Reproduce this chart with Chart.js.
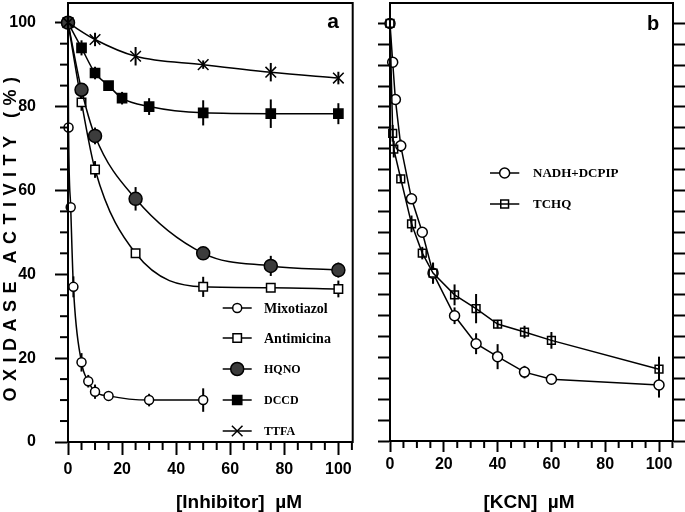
<!DOCTYPE html>
<html>
<head>
    <title>Oxidase activity - inhibitors and KCN</title>
    <script src="https://cdn.jsdelivr.net/npm/chart.js"></script>
    <style>
        body { margin: 0; background: #fff; }
        .wrap { position: relative; width: 685px; height: 512px; }
        #chartA { position: absolute; left: 0; top: 0; }
        #chartB { position: absolute; left: 370px; top: 0; }
    </style>
</head>
<body>
<div class="wrap">
    <canvas id="chartA" width="370" height="512"></canvas>
    <canvas id="chartB" width="315" height="512"></canvas>
</div>
<script>
    // Panel a: inhibitor concentration (uM) vs oxidase activity (%)
    const mixoConc = [0, 0.2, 1, 2, 5, 7.5, 10, 15, 30, 50];
    const mixoAct  = [100, 75, 56, 37, 19, 14.5, 12, 11, 10, 10];
    const mixoErr  = [0, 0, 0, 2.5, 2.2, 1.5, 1.7, 0, 1.5, 2.8];

    const antiConc = [0, 5, 10, 25, 50, 75, 100];
    const antiAct  = [100, 81, 65, 45, 37, 36.8, 36.5];
    const antiErr  = [0, 2, 2, 0, 2.4, 0, 2];

    const hqnoConc = [0, 5, 10, 25, 50, 75, 100];
    const hqnoAct  = [100, 84, 73, 58, 45, 42, 41];
    const hqnoErr  = [0, 0, 2, 2.8, 1.5, 2.4, 1.8];

    const dccdConc = [0, 5, 10, 15, 20, 30, 50, 75, 100];
    const dccdAct  = [100, 94, 88, 85, 82, 80, 78.5, 78.3, 78.3];
    const dccdErr  = [0, 1.8, 1.5, 0, 1.5, 2, 3, 3.4, 2.5];

    const ttfaConc = [0, 10, 25, 50, 75, 100];
    const ttfaAct  = [100, 96, 92, 90, 88.2, 86.8];
    const ttfaErr  = [0, 1.6, 2.2, 1, 2.2, 1.5];

    // Panel b: KCN concentration (uM)
    const nadhConc = [0, 1, 2, 4, 8, 12, 16, 24, 32, 40, 50, 60, 100];
    const nadhAct  = [100, 90.7, 81.8, 70.7, 58, 50, 40.2, 30, 23.3, 20.2, 16.5, 14.8, 13.4];
    const nadhErr  = [0, 1, 1, 1.5, 1, 1, 2.5, 2, 2.5, 3, 1.5, 1, 3];

    const tchqConc = [0, 1, 1.4, 4, 8, 12, 16, 24, 32, 40, 50, 60, 100];
    const tchqAct  = [100, 73.7, 69.9, 62.8, 52, 45, 40.2, 35, 31.7, 28, 26.1, 24.1, 17.2];
    const tchqErr  = [0, 2, 2, 1, 2, 1.5, 2.5, 2.5, 3.5, 1, 1.5, 2, 3];

    const tickLabels = [0, 20, 40, 60, 80, 100];

    const sans = "'Liberation Sans', Arial, sans-serif";
    const serif = "'Liberation Serif', 'Times New Roman', serif";

    const pts = (xs, ys) => xs.map((x, i) => ({ x: x, y: ys[i] }));

    // fixed box sizes, and no extra room for the end labels
    const fitBox = (w, h) => s => {
        if (w !== null) s.width = w;
        if (h !== null) s.height = h;
        s.paddingTop = 0; s.paddingBottom = 0;
        s.paddingLeft = 0; s.paddingRight = 0;
    };

    // error bars under the markers
    const errorBars = {
        id: 'errorBars',
        beforeDatasetsDraw(chart) {
            const ctx = chart.ctx;
            const xs = chart.scales.x, ys = chart.scales.y;
            ctx.save();
            ctx.strokeStyle = '#000';
            ctx.lineWidth = 2;
            chart.data.datasets.forEach(ds => {
                (ds.err || []).forEach((e, i) => {
                    if (!e) return;
                    const p = ds.data[i];
                    const px = xs.getPixelForValue(p.x);
                    ctx.beginPath();
                    ctx.moveTo(px, ys.getPixelForValue(p.y + e));
                    ctx.lineTo(px, ys.getPixelForValue(p.y - e));
                    ctx.stroke();
                });
            });
            ctx.restore();
        }
    };

    // short ticks every 5 between the labelled ones
    const minorTicks = {
        id: 'minorTicks',
        afterDraw(chart, args, opts) {
            const ctx = chart.ctx;
            ctx.save();
            ctx.strokeStyle = '#000';
            ctx.lineWidth = 2;
            (opts.list || []).forEach(m => {
                const s = chart.scales[m.id];
                for (let v = 5; v <= s.max; v += 5) {
                    if (v % 20 === 0) continue;
                    const p = s.getPixelForValue(v);
                    ctx.beginPath();
                    if (s.isHorizontal()) {
                        ctx.moveTo(p, s.top);
                        ctx.lineTo(p, s.top + m.len);
                    } else {
                        ctx.moveTo(s.right - m.len, p);
                        ctx.lineTo(s.right, p);
                    }
                    ctx.stroke();
                }
            });
            ctx.restore();
        }
    };

    // box around the plot
    const frame = {
        id: 'frame',
        afterDraw(chart) {
            const a = chart.chartArea, ctx = chart.ctx;
            ctx.save();
            ctx.strokeStyle = '#000';
            ctx.lineWidth = 2;
            ctx.strokeRect(a.left, a.top, a.right - a.left, a.bottom - a.top);
            ctx.restore();
        }
    };

    function drawMarker(ctx, ds, x, y) {
        const r = ds.pointRadius;
        const h = r * Math.SQRT1_2;
        ctx.beginPath();
        if (ds.pointStyle === 'circle') {
            ctx.arc(x, y, r, 0, Math.PI * 2);
        } else if (ds.pointStyle === 'rect') {
            ctx.rect(x - h, y - h, 2 * h, 2 * h);
        } else {
            ctx.moveTo(x - h, y - h); ctx.lineTo(x + h, y + h);
            ctx.moveTo(x + h, y - h); ctx.lineTo(x - h, y + h);
        }
        if (ds.pointStyle !== 'crossRot') {
            ctx.fillStyle = ds.pointBackgroundColor;
            ctx.fill();
        }
        ctx.lineWidth = ds.pointBorderWidth;
        ctx.strokeStyle = '#000';
        ctx.stroke();
    }

    // legend placed inside the plot, plus free text (titles, panel letters)
    const annotate = {
        id: 'annotate',
        afterDraw(chart, args, opts) {
            const ctx = chart.ctx;
            ctx.save();
            const lg = opts.legend;
            if (lg) {
                lg.rows.forEach(row => {
                    const ds = chart.data.datasets[row.ds];
                    ctx.strokeStyle = '#000';
                    ctx.lineWidth = 1.5;
                    ctx.beginPath();
                    ctx.moveTo(lg.x1, row.y);
                    ctx.lineTo(lg.x2, row.y);
                    ctx.stroke();
                    drawMarker(ctx, ds, (lg.x1 + lg.x2) / 2, row.y);
                    ctx.fillStyle = '#000';
                    ctx.font = 'bold ' + row.size + 'px ' + serif;
                    ctx.textAlign = 'left';
                    ctx.textBaseline = 'middle';
                    ctx.fillText(ds.label, lg.tx, row.y + 1);
                });
            }
            (opts.texts || []).forEach(t => {
                ctx.save();
                ctx.fillStyle = '#000';
                ctx.font = 'bold ' + t.size + 'px ' + sans;
                ctx.textAlign = 'center';
                ctx.textBaseline = 'alphabetic';
                if (t.spacing) ctx.letterSpacing = t.spacing;
                ctx.translate(t.x, t.y);
                if (t.rotate) ctx.rotate(-Math.PI / 2);
                ctx.fillText(t.text, 0, 0);
                ctx.restore();
            });
            ctx.restore();
        }
    };

    const tickFont = { family: sans, size: 16, weight: 'bold' };

    const lineBase = {
        borderColor: '#000',
        borderWidth: 1.5,
        pointBorderColor: '#000',
        pointBorderWidth: 1.5,
        clip: false
    };

    // ---- panel a ----
    new Chart(document.getElementById('chartA'), {
        type: 'line',
        data: {
            datasets: [
                Object.assign({}, lineBase, {
                    label: 'Mixotiazol', data: pts(mixoConc, mixoAct), err: mixoErr, order: 5,
                    pointStyle: 'circle', pointRadius: 4.5, pointBackgroundColor: '#fff',
                    cubicInterpolationMode: 'monotone'
                }),
                Object.assign({}, lineBase, {
                    label: 'Antimicina', data: pts(antiConc, antiAct), err: antiErr, order: 4,
                    pointStyle: 'rect', pointRadius: 6, pointBackgroundColor: '#fff',
                    cubicInterpolationMode: 'monotone'
                }),
                Object.assign({}, lineBase, {
                    label: 'HQNO', data: pts(hqnoConc, hqnoAct), err: hqnoErr, order: 2,
                    pointStyle: 'circle', pointRadius: 6.5, pointBackgroundColor: '#3c3c3c',
                    cubicInterpolationMode: 'monotone'
                }),
                Object.assign({}, lineBase, {
                    label: 'DCCD', data: pts(dccdConc, dccdAct), err: dccdErr, order: 3,
                    pointStyle: 'rect', pointRadius: 6.5, pointBackgroundColor: '#000',
                    cubicInterpolationMode: 'monotone'
                }),
                Object.assign({}, lineBase, {
                    label: 'TTFA', data: pts(ttfaConc, ttfaAct), err: ttfaErr, order: 1,
                    pointStyle: 'crossRot', pointRadius: 7.5, pointBackgroundColor: '#000',
                    cubicInterpolationMode: 'monotone'
                })
            ]
        },
        options: {
            responsive: false,
            animation: false,
            events: [],
            layout: { autoPadding: false, padding: { top: 3, right: 17.3, left: 0, bottom: 0 } },
            plugins: {
                legend: { display: false },
                tooltip: { enabled: false },
                minorTicks: { list: [{ id: 'x', len: 8 }, { id: 'y', len: 8 }] },
                annotate: {
                    legend: {
                        x1: 222.7, x2: 251.7, tx: 264,
                        rows: [
                            { ds: 0, y: 308, size: 14 },
                            { ds: 1, y: 338, size: 14 },
                            { ds: 2, y: 369, size: 12 },
                            { ds: 3, y: 400, size: 12 },
                            { ds: 4, y: 431, size: 12 }
                        ]
                    },
                    texts: [
                        { text: 'OXIDASE ACTIVITY (%)', x: 16, y: 236, size: 18, rotate: true, spacing: '6.5px' },
                        { text: '[Inhibitor]  µM', x: 239, y: 508, size: 19 },
                        { text: 'a', x: 333, y: 28, size: 21 }
                    ]
                }
            },
            scales: {
                x: {
                    type: 'linear', min: 0, max: 105.3,
                    afterFit: fitBox(null, 70),
                    grid: { drawOnChartArea: false, tickLength: 13, tickWidth: 2, tickColor: '#000' },
                    border: { color: '#000', width: 2 },
                    ticks: {
                        stepSize: 20, includeBounds: false, autoSkip: false, maxRotation: 0,
                        padding: 5, color: '#000', font: tickFont,
                        callback: v => tickLabels.includes(v) ? String(v) : ''
                    }
                },
                y: {
                    min: 0, max: 104.7,
                    afterFit: fitBox(68, null),
                    grid: { drawOnChartArea: false, tickLength: 13, tickWidth: 2, tickColor: '#000' },
                    border: { color: '#000', width: 2 },
                    ticks: {
                        stepSize: 20, includeBounds: false, padding: 19, color: '#000', font: tickFont,
                        callback: v => tickLabels.includes(v) ? String(v) : ''
                    }
                }
            }
        },
        plugins: [errorBars, minorTicks, frame, annotate]
    });

    // ---- panel b ----
    new Chart(document.getElementById('chartB'), {
        type: 'line',
        data: {
            datasets: [
                Object.assign({}, lineBase, {
                    label: 'NADH+DCPIP', data: pts(nadhConc, nadhAct), err: nadhErr, order: 2,
                    pointStyle: 'circle', pointRadius: 5, pointBackgroundColor: '#fff',
                    tension: 0
                }),
                Object.assign({}, lineBase, {
                    label: 'TCHQ', data: pts(tchqConc, tchqAct), err: tchqErr, order: 1,
                    pointStyle: 'rect', pointRadius: 5.5, pointBackgroundColor: 'rgba(255,255,255,0)',
                    tension: 0
                })
            ]
        },
        options: {
            responsive: false,
            animation: false,
            events: [],
            layout: { autoPadding: false, padding: { top: 3, right: 0, left: 0, bottom: 0 } },
            plugins: {
                legend: { display: false },
                tooltip: { enabled: false },
                minorTicks: { list: [{ id: 'x', len: 7 }] },
                annotate: {
                    legend: {
                        x1: 120, x2: 149.3, tx: 163,
                        rows: [
                            { ds: 0, y: 173, size: 13 },
                            { ds: 1, y: 204, size: 13 }
                        ]
                    },
                    texts: [
                        { text: '[KCN]  µM', x: 159, y: 508, size: 19 },
                        { text: 'b', x: 283, y: 30, size: 20 }
                    ]
                }
            },
            scales: {
                x: {
                    type: 'linear', min: 0, max: 105.2,
                    afterFit: fitBox(null, 71),
                    grid: { drawOnChartArea: false, tickLength: 11, tickWidth: 2, tickColor: '#000' },
                    border: { color: '#000', width: 2 },
                    ticks: {
                        stepSize: 20, includeBounds: false, autoSkip: false, maxRotation: 0,
                        padding: 3, color: '#000', font: tickFont,
                        callback: v => tickLabels.includes(v) ? String(v) : ''
                    }
                },
                y: {
                    min: 0, max: 104.9, position: 'left',
                    afterFit: fitBox(20, null),
                    grid: { drawOnChartArea: false, tickLength: 12, tickWidth: 2, tickColor: '#000' },
                    border: { color: '#000', width: 2 },
                    ticks: { stepSize: 5, includeBounds: false, display: false }
                },
                y2: {
                    min: 0, max: 104.9, position: 'right',
                    afterFit: fitBox(12, null),
                    grid: { drawOnChartArea: false, tickLength: 12, tickWidth: 2, tickColor: '#000' },
                    border: { color: '#000', width: 2 },
                    ticks: { stepSize: 5, includeBounds: false, display: false }
                }
            }
        },
        plugins: [errorBars, minorTicks, frame, annotate]
    });
</script>
</body>
</html>
